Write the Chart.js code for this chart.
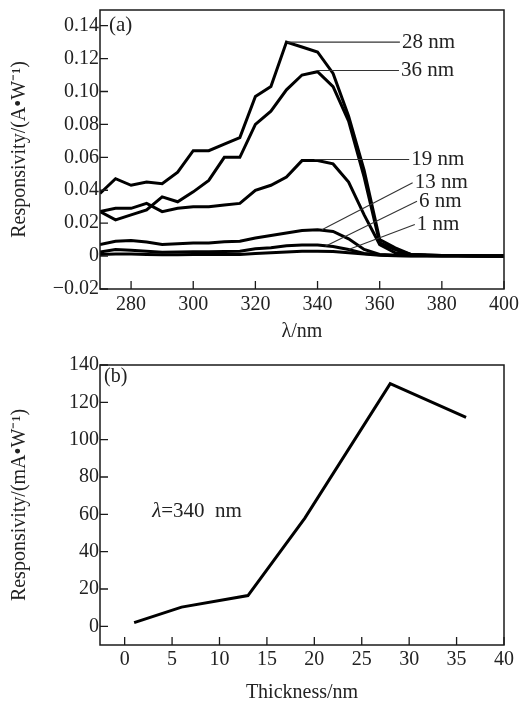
<!DOCTYPE html>
<html>
<head>
<meta charset="utf-8">
<script src="https://cdn.jsdelivr.net/npm/chart.js@4.4.0/dist/chart.umd.min.js"></script>
<style>
  body { margin: 0; background: #fff; }
  #wrapA { position: absolute; left: 0; top: 0; width: 522px; height: 345px; }
  #wrapB { position: absolute; left: 0; top: 340px; width: 522px; height: 363px; }
</style>
</head>
<body>
<div id="wrapA"><canvas id="chartA"></canvas></div>
<div id="wrapB"><canvas id="chartB"></canvas></div>
<script>
// (a) responsivity spectra, one series per film thickness
const wavelength = [270, 275, 280, 285, 290, 295, 300, 305, 310, 315, 320, 325, 330, 335,
  340, 345, 350, 355, 360, 365, 370, 375, 380, 385, 390, 395, 400];
const resp1nm = [0.001, 0.0012, 0.0012, 0.001, 0.0008, 0.0008, 0.0009, 0.0009, 0.001, 0.001,
  0.0015, 0.002, 0.0025, 0.003, 0.003, 0.0028, 0.002, 0.0012, 0.0005, 0.0002, 0.0001, 0.0001, 0, 0, 0, 0, 0];
const resp6nm = [0.0025, 0.004, 0.0036, 0.003, 0.0024, 0.0025, 0.0026, 0.0027, 0.0028, 0.003,
  0.0045, 0.005, 0.0063, 0.0067, 0.0067, 0.0058, 0.004, 0.0016, 0.0008, 0.0004, 0.0002, 0.0002, 0.0001, 0.0001, 0.0001, 0, 0];
const resp13nm = [0.007, 0.009, 0.0095, 0.0085, 0.007, 0.0075, 0.008, 0.008, 0.0087, 0.009,
  0.011, 0.0125, 0.014, 0.0155, 0.016, 0.015, 0.0105, 0.004, 0.001, 0.0005, 0.0003, 0.0003, 0.0002, 0.0002, 0.0001, 0.0001, 0.0001];
const resp19nm = [0.027, 0.029, 0.029, 0.032, 0.027, 0.029, 0.030, 0.030, 0.031, 0.032,
  0.040, 0.043, 0.048, 0.058, 0.058, 0.056, 0.045, 0.025, 0.007, 0.002, 0.001, 0.0005, 0.0004, 0.0003, 0.0002, 0.0001, 0.0001];
const resp28nm = [0.038, 0.047, 0.043, 0.045, 0.044, 0.051, 0.064, 0.064, 0.068, 0.072,
  0.097, 0.103, 0.130, 0.127, 0.124, 0.111, 0.085, 0.052, 0.010, 0.005, 0.001, 0.0006, 0.0004, 0.0003, 0.0002, 0.0001, 0.0001];
const resp36nm = [0.027, 0.022, 0.025, 0.028, 0.036, 0.033, 0.039, 0.046, 0.060, 0.060,
  0.080, 0.088, 0.101, 0.110, 0.112, 0.103, 0.082, 0.048, 0.008, 0.004, 0.001, 0.0006, 0.0004, 0.0003, 0.0002, 0.0001, 0.0001];
const seriesNames = ["1 nm", "6 nm", "13 nm", "19 nm", "28 nm", "36 nm"];
const seriesValues = [resp1nm, resp6nm, resp13nm, resp19nm, resp28nm, resp36nm];

const ticksAx = [280, 300, 320, 340, 360, 380, 400];
const ticksAy = [-0.02, 0, 0.02, 0.04, 0.06, 0.08, 0.10, 0.12, 0.14];
const labelsAy = ["\u22120.02", "0", "0.02", "0.04", "0.06", "0.08", "0.10", "0.12", "0.14"];

// (b) responsivity at 340 nm vs thickness
const thickness = [1, 6, 13, 19, 28, 36];
const resp340 = [2, 10.3, 16.5, 58, 130, 112];
const ticksBx = [0, 5, 10, 15, 20, 25, 30, 35, 40];
const ticksBy = [0, 20, 40, 60, 80, 100, 120, 140];

// leader lines for the curve labels in (a): [from x, from y, to x, to y] in data units
const leaders = {
  "28 nm": [330.3, 0.130, 366.5, 0.130],
  "36 nm": [339.8, 0.1127, 366.2, 0.1127],
  "19 nm": [339.0, 0.0587, 369.5, 0.0587],
  "13 nm": [341.4, 0.016, 370.6, 0.0445],
  "6 nm": [342.5, 0.006, 372.0, 0.0333],
  "1 nm": [350.0, 0.004, 371.3, 0.0192]
};

const FONT = "Liberation Serif";
const INK = "#222";

// box round the plot and short ticks pointing inwards
const frame = {
  id: "frame",
  afterDraw(chart) {
    const ctx = chart.ctx;
    const a = chart.chartArea;
    const sx = chart.scales.x;
    const sy = chart.scales.y;
    ctx.save();
    ctx.strokeStyle = "#1a1a1a";
    ctx.lineWidth = 1.5;
    ctx.strokeRect(a.left, a.top, a.right - a.left, a.bottom - a.top);
    ctx.lineWidth = 1.3;
    ctx.beginPath();
    sy.ticks.forEach((t) => {
      const y = sy.getPixelForValue(t.value);
      ctx.moveTo(a.left, y);
      ctx.lineTo(a.left + 8, y);
    });
    sx.ticks.forEach((t) => {
      const x = sx.getPixelForValue(t.value);
      ctx.moveTo(x, a.bottom);
      ctx.lineTo(x, a.bottom - 8);
    });
    ctx.stroke();
    ctx.restore();
  }
};

const curveLabels = {
  id: "curveLabels",
  afterDatasetsDraw(chart) {
    const ctx = chart.ctx;
    const sx = chart.scales.x;
    const sy = chart.scales.y;
    ctx.save();
    ctx.strokeStyle = "#333";
    ctx.lineWidth = 1.1;
    ctx.fillStyle = INK;
    ctx.font = "21px '" + FONT + "'";
    ctx.textBaseline = "middle";
    seriesNames.forEach((name) => {
      const l = leaders[name];
      const x2 = sx.getPixelForValue(l[2]);
      const y2 = sy.getPixelForValue(l[3]);
      ctx.beginPath();
      ctx.moveTo(sx.getPixelForValue(l[0]), sy.getPixelForValue(l[1]));
      ctx.lineTo(x2, y2);
      ctx.stroke();
      ctx.fillText(name, x2 + 2, y2);
    });
    ctx.fillText("(a)", chart.chartArea.left + 9, chart.chartArea.top + 15);
    ctx.restore();
  }
};

const noteB = {
  id: "noteB",
  afterDatasetsDraw(chart) {
    const ctx = chart.ctx;
    const sx = chart.scales.x;
    const sy = chart.scales.y;
    ctx.save();
    ctx.fillStyle = INK;
    ctx.textBaseline = "middle";
    let x = sx.getPixelForValue(2.9);
    const y = sy.getPixelForValue(61.4);
    ctx.font = "italic 21px '" + FONT + "'";
    ctx.fillText("\u03bb", x, y);
    x += ctx.measureText("\u03bb").width;
    ctx.font = "21px '" + FONT + "'";
    ctx.fillText("=340  nm", x, y);
    ctx.font = "20px '" + FONT + "'";
    ctx.fillText("(b)", chart.chartArea.left + 4, chart.chartArea.top + 12);
    ctx.restore();
  }
};

function axis(opts) {
  const isX = opts.axis === "x";
  return {
    type: "linear",
    min: opts.min,
    max: opts.max,
    afterBuildTicks: (s) => {
      s.ticks = opts.ticks.map((v) => ({ value: v }));
    },
    afterFit: (s) => {
      if (isX) {
        s.height = opts.size;
        s.paddingLeft = 0;
        s.paddingRight = 0;
      } else {
        s.width = opts.size;
        s.paddingTop = 0;
        s.paddingBottom = 0;
      }
    },
    grid: { display: false, drawTicks: false },
    border: { display: false },
    ticks: {
      color: INK,
      font: { family: FONT, size: 20 },
      padding: isX ? opts.tickPad : 1,
      maxRotation: 0,
      autoSkip: false,
      callback: opts.labels
        ? (v) => opts.labels[opts.ticks.indexOf(v)]
        : (v) => String(v)
    },
    title: {
      display: true,
      text: opts.title,
      color: INK,
      font: { family: FONT, size: 20, lineHeight: 1 },
      padding: isX ? { top: 0, bottom: opts.titlePad } : { top: opts.titlePad, bottom: 0 }
    }
  };
}

function lineStyle(data) {
  return {
    data: data,
    borderColor: "#000",
    borderWidth: 3,
    pointRadius: 0,
    tension: 0,
    fill: false
  };
}

function createChartA() {
  new Chart(document.getElementById("chartA"), {
    type: "line",
    data: {
      datasets: seriesValues.map((vals, i) => {
        const ds = lineStyle(wavelength.map((w, j) => ({ x: w, y: vals[j] })));
        ds.label = seriesNames[i];
        return ds;
      })
    },
    options: {
      responsive: true,
      maintainAspectRatio: false,
      animation: false,
      layout: { padding: { top: 10, right: 18, left: 0, bottom: 0 } },
      plugins: { legend: { display: false }, tooltip: { enabled: false } },
      scales: {
        x: axis({ axis: "x", min: 270, max: 400, ticks: ticksAx, size: 56, tickPad: 4,
          title: "\u03bb/nm", titlePad: 3 }),
        y: axis({ axis: "y", min: -0.02, max: 0.1495, ticks: ticksAy, labels: labelsAy, size: 100,
          title: "Responsivity/(A\u2022W\u207b\u00b9)", titlePad: 10 })
      }
    },
    plugins: [frame, curveLabels]
  });
}

function createChartB() {
  const ds = lineStyle(thickness.map((t, i) => ({ x: t, y: resp340[i] })));
  ds.label = "340 nm";
  new Chart(document.getElementById("chartB"), {
    type: "line",
    data: { datasets: [ds] },
    options: {
      responsive: true,
      maintainAspectRatio: false,
      animation: false,
      layout: { padding: { top: 25, right: 18, left: 0, bottom: 0 } },
      plugins: { legend: { display: false }, tooltip: { enabled: false } },
      scales: {
        x: axis({ axis: "x", min: -2.6, max: 40, ticks: ticksBx, size: 58, tickPad: 3,
          title: "Thickness/nm", titlePad: 0 }),
        y: axis({ axis: "y", min: -10, max: 140, ticks: ticksBy, size: 100,
          title: "Responsivity/(mA\u2022W\u207b\u00b9)", titlePad: 10 })
      }
    },
    plugins: [frame, noteB]
  });
}

createChartA();
createChartB();
</script>
</body>
</html>
